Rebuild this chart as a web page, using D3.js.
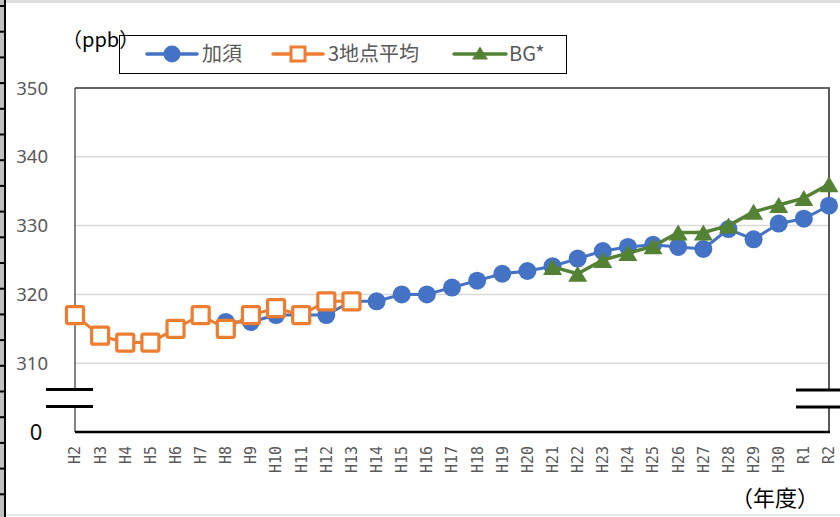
<!DOCTYPE html>
<html><head><meta charset="utf-8">
<script src="https://cdn.jsdelivr.net/npm/d3@7"></script>
<style>html,body{margin:0;padding:0;background:#fff;}svg{display:block;}</style>
</head><body>
<svg id="chart" width="840" height="517"></svg>
<script>
const categories = ["H2","H3","H4","H5","H6","H7","H8","H9","H10","H11","H12","H13","H14","H15","H16","H17","H18","H19","H20","H21","H22","H23","H24","H25","H26","H27","H28","H29","H30","R1","R2"];
const kazo = [null,null,null,null,null,null,316,316,317,317,317,319,319,320,320,321,322,323,323.4,324.1,325.2,326.3,326.9,327.2,326.9,326.6,329.5,328.0,330.3,331.0,332.9];
const avg3 = [317,314,313,313,315,317,315,317,318,317,319,319,null,null,null,null,null,null,null,null,null,null,null,null,null,null,null,null,null,null,null];
const bg = [null,null,null,null,null,null,null,null,null,null,null,null,null,null,null,null,null,null,null,324,323,325,326,327,329,329,330,332,333,334,336];
const yTicks = [310,320,330,340,350];
const seriesNames = ["加須","3地点平均","BG*"];

const svg = d3.select("#chart");
const W = 840, H = 517;
const L = 75, R = 829, T = 88, B = 432;
const x = d3.scalePoint().domain(categories).range([L, R]).padding(0);
const y = d3.scaleLinear().domain([300, 350]).range([B, T]);

// spreadsheet frame decorations
svg.append("rect").attr("x",0).attr("y",0).attr("width",W).attr("height",3).attr("fill","#dedede");
svg.append("rect").attr("x",0).attr("y",514).attr("width",W).attr("height",2).attr("fill","#e6e6e6");
svg.append("rect").attr("x",0).attr("y",0).attr("width",4).attr("height",H).attr("fill","#c0c0c0");
svg.append("rect").attr("x",4).attr("y",0).attr("width",2).attr("height",H).attr("fill","#000");
for (let i = 0; i < 21; i++) {
  svg.append("rect").attr("x",0).attr("y",5 + 25.7*i).attr("width",4).attr("height",2).attr("fill","#000");
}

// gridlines
svg.append("g").selectAll("line").data([310,320,330,340]).join("line")
  .attr("x1",L).attr("x2",R).attr("y1",d=>y(d)).attr("y2",d=>y(d))
  .attr("stroke","#d9d9d9").attr("stroke-width",1.5);

// plot frame
svg.append("line").attr("x1",L).attr("x2",R+1).attr("y1",T).attr("y2",T).attr("stroke","#333").attr("stroke-width",1.5);
svg.append("line").attr("x1",L).attr("x2",L).attr("y1",T).attr("y2",B).attr("stroke","#333").attr("stroke-width",1.2);
svg.append("line").attr("x1",R).attr("x2",R).attr("y1",T).attr("y2",B).attr("stroke","#595959").attr("stroke-width",2);
svg.append("line").attr("x1",L).attr("x2",R+1).attr("y1",B).attr("y2",B).attr("stroke","#000").attr("stroke-width",2.5);

// y tick labels
svg.append("g").selectAll("text").data(yTicks).join("text")
  .attr("x",48).attr("y",d=>y(d)).attr("dy","0.36em").attr("text-anchor","end")
  .attr("font-family","'Noto Sans', sans-serif").attr("font-size",18.5).attr("fill","#595959")
  .text(d=>d);
svg.append("text").attr("x",36).attr("y",y(300)).attr("dy","0.36em").attr("text-anchor","middle")
  .attr("font-family","'Noto Sans', sans-serif").attr("font-size",22).attr("fill","#111").text("0");

// x tick labels
svg.append("g").selectAll("text").data(categories).join("text")
  .attr("transform",d=>`translate(${x(d)},446) rotate(-90)`)
  .attr("dy","0.36em").attr("text-anchor","end")
  .attr("font-family","'DejaVu Sans Mono', monospace").attr("font-size",15)
  .attr("fill","#595959").text(d=>d);

// axis break marks
function brk(x1, x2, y1, y2) {
  svg.append("rect").attr("x",x1).attr("y",y1).attr("width",x2-x1).attr("height",y2-y1).attr("fill","#fff");
  svg.append("line").attr("x1",x1).attr("x2",x2).attr("y1",y1).attr("y2",y1).attr("stroke","#000").attr("stroke-width",3);
  svg.append("line").attr("x1",x1).attr("x2",x2).attr("y1",y2).attr("y2",y2).attr("stroke","#000").attr("stroke-width",3);
}
brk(46, 93, 389.5, 406.5);
brk(796, 840, 390, 407);

// series
const colors = ["#4472C4","#ED7D31","#548235"];
const line = d3.line().defined(d=>d.v!=null).x(d=>x(d.c)).y(d=>y(d.v));
function pts(arr){ return categories.map((c,i)=>({c, v:arr[i]})); }
const triPath = (s,h)=>`M0,${-h/2}L${s/2},${h/2}L${-s/2},${h/2}Z`;

// 加須
svg.append("path").datum(pts(kazo)).attr("d",line).attr("fill","none").attr("stroke",colors[0]).attr("stroke-width",3).attr("stroke-linejoin","round");
svg.append("g").selectAll("circle").data(pts(kazo).filter(d=>d.v!=null)).join("circle")
  .attr("cx",d=>x(d.c)).attr("cy",d=>y(d.v)).attr("r",9).attr("fill",colors[0]);

// 3地点平均
svg.append("path").datum(pts(avg3)).attr("d",line).attr("fill","none").attr("stroke",colors[1]).attr("stroke-width",3).attr("stroke-linejoin","round");
svg.append("g").selectAll("rect").data(pts(avg3).filter(d=>d.v!=null)).join("rect")
  .attr("x",d=>x(d.c)-8.5).attr("y",d=>y(d.v)-8.5).attr("width",17).attr("height",17).attr("rx",1.5)
  .attr("fill","#fff").attr("stroke",colors[1]).attr("stroke-width",3.2);

// BG*
svg.append("path").datum(pts(bg)).attr("d",line).attr("fill","none").attr("stroke",colors[2]).attr("stroke-width",3.5).attr("stroke-linejoin","round");
svg.append("g").selectAll("path").data(pts(bg).filter(d=>d.v!=null)).join("path")
  .attr("transform",d=>`translate(${x(d.c)},${y(d.v)})`).attr("d",triPath(19,16)).attr("fill",colors[2]);

// unit labels
svg.append("text").attr("x",62).attr("y",47).attr("font-family","'Noto Sans CJK JP', sans-serif").attr("font-size",20).attr("fill","#000").text("（ppb）");
svg.append("text").attr("x",731).attr("y",506).attr("font-family","'Noto Sans CJK JP', sans-serif").attr("font-size",22).attr("fill","#000").text("（年度）");

// legend
svg.append("rect").attr("x",119.5).attr("y",35.5).attr("width",447).attr("height",38).attr("fill","none").attr("stroke","#000").attr("stroke-width",1);
const leg = [
  {x1:147, x2:197, tx:202},
  {x1:273, x2:323, tx:328},
  {x1:454, x2:506, tx:509}
];
const ly = 54;
leg.forEach((l,i)=>{
  svg.append("line").attr("x1",l.x1).attr("x2",l.x2).attr("y1",ly).attr("y2",ly).attr("stroke",colors[i]).attr("stroke-width",3.5).attr("stroke-linecap","round");
  const cx = (l.x1+l.x2)/2;
  if (i===0) svg.append("circle").attr("cx",cx).attr("cy",ly).attr("r",8.5).attr("fill",colors[0]);
  if (i===1) svg.append("rect").attr("x",cx-7).attr("y",ly-7).attr("width",14).attr("height",14).attr("fill","#fff").attr("stroke",colors[1]).attr("stroke-width",3);
  if (i===2) svg.append("path").attr("transform",`translate(${cx},${ly-1})`).attr("d",triPath(16,13)).attr("fill",colors[2]);
  svg.append("text").attr("x",l.tx).attr("y",ly+7).attr("font-family","'Noto Sans CJK JP', sans-serif").attr("font-size",20).attr("fill","#595959").text(seriesNames[i]);
});
</script>
</body></html>
